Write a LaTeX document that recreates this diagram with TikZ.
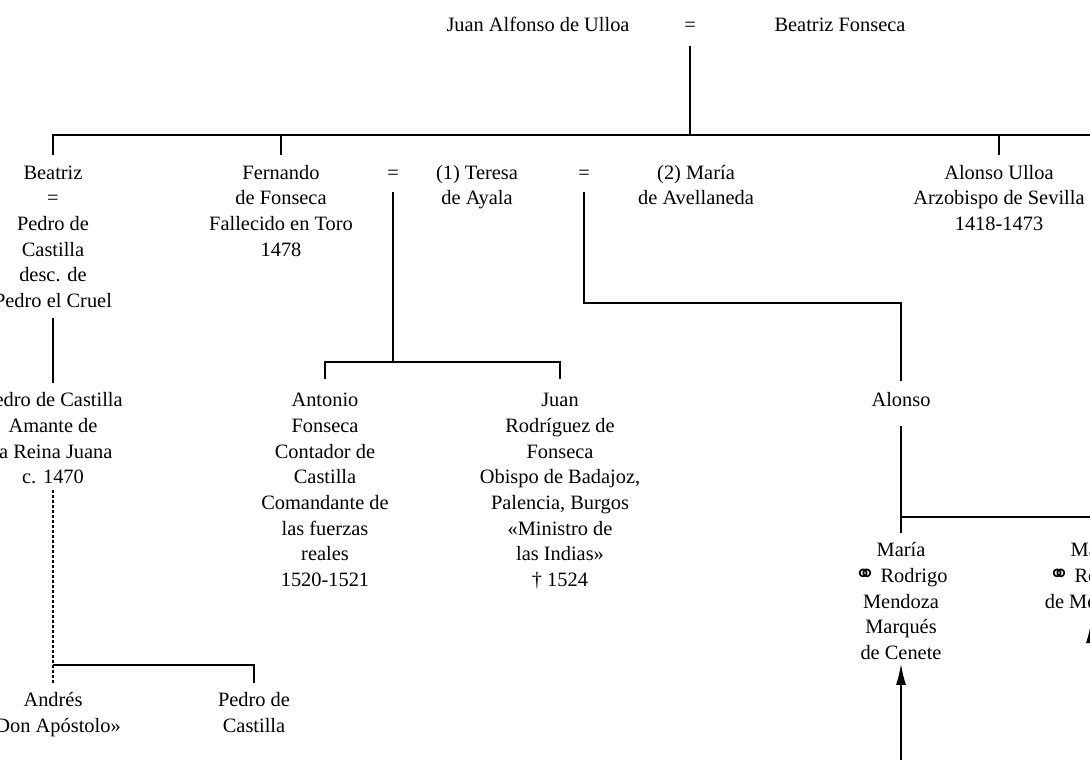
\documentclass[tikz,border=0pt]{standalone}
\usepackage{fontspec}
\setmainfont{Liberation Serif}
\newfontfamily\marrfont{DejaVu Sans}
\usetikzlibrary{arrows.meta}
\newcommand{\wed}{{\marrfont\fontsize{25}{25}\selectfont ⚭}}

\begin{document}
\begin{tikzpicture}[x=1pt, y=-1pt,
    kin/.style={line width=1.5pt},
    heir/.style={line width=1.2pt, dash pattern=on 3pt off 2pt},
    descent/.style={line width=1.5pt, -{Latex[length=21pt,width=10pt]}},
    who/.style={align=center, inner sep=0pt, anchor=north, font=\fontsize{20.4}{25.7}\selectfont}]
    \useasboundingbox (0,0) rectangle (1090,764);
    \clip (0,0) rectangle (1090,764);

    % the first couple
    \node[who] (juan) at (538, 13.5) {\strut Juan Alfonso de Ulloa};
    \node[who] (eqtop) at (690, 13.5) {\strut =};
    \node[who] (beaf) at (840, 13.5) {\strut Beatriz Fonseca};
    \coordinate (top) at (690, 135);

    % their children
    \node[who] (beatriz) at (53, 161) {\strut Beatriz\\=\\Pedro de\\Castilla\\desc. de\\Pedro el Cruel};
    \node[who] (fernando) at (281, 161) {\strut Fernando\\de Fonseca\\Fallecido en Toro\\1478};
    \node[who] (eq1) at (393, 161) {\strut =};
    \node[who] (teresa) at (477, 161) {\strut (1) Teresa\\de Ayala};
    \node[who] (eq2) at (584, 161) {\strut =};
    \node[who] (mariaA) at (696, 161) {\strut (2) María\\de Avellaneda};
    \node[who] (alonsoU) at (999, 161) {\strut Alonso Ulloa\\Arzobispo de Sevilla\\1418-1473};

    \draw[kin, shorten <=6pt] (eqtop.south) -- (top);
    \draw[kin] ([yshift=6pt]beatriz.north) |- (1100, 135);
    \draw[kin] ([yshift=6pt]fernando.north) -- (fernando.north |- top);
    \draw[kin] ([yshift=6pt]alonsoU.north) -- (alonsoU.north |- top);

    % grandchildren
    \node[who] (pedroC) at (53, 388.5) {\strut Pedro de Castilla\\Amante de\\la Reina Juana\\c. 1470};
    \node[who] (antonio) at (325, 388.5) {\strut Antonio\\Fonseca\\Contador de\\Castilla\\Comandante de\\las fuerzas\\reales\\1520-1521};
    \node[who] (juanR) at (560, 388.5) {\strut Juan\\Rodríguez de\\Fonseca\\Obispo de Badajoz,\\Palencia, Burgos\\«Ministro de\\las Indias»\\† 1524};
    \node[who] (alonso) at (901, 388.5) {\strut Alonso};
    \coordinate (sons) at (393, 362);
    \coordinate (bend) at (901, 303);

    \draw[kin] ([yshift=-10pt]beatriz.south) -- ([yshift=6pt]pedroC.north);
    \draw[kin, shorten <=5pt] (eq1.south) -- (sons);
    \draw[kin] ([yshift=10pt]antonio.north) |- (sons) -| ([yshift=10pt]juanR.north);
    \draw[kin, shorten <=5pt] (eq2.south) |- (bend) -- ([yshift=8pt]alonso.north);

    % next generation
    \node[who] (mariaR) at (901, 538.5) {\strut María\\\wed{} Rodrigo\\Mendoza\\Marqués\\de Cenete};
    \node[who] (mariaM) at (1095, 538.5) {\strut María\\\wed{} Rodrigo\\de Mendoza};
    \node[who] (andres) at (53, 688.5) {\strut Andrés\\«Don Apóstolo»};
    \node[who] (pedroB) at (254, 688.5) {\strut Pedro de\\Castilla};
    \coordinate (daughters) at (901, 517);
    \coordinate (bast) at (53, 665);
    \coordinate (srcA) at (901, 760);
    \coordinate (srcB) at (1091, 780);

    \draw[kin] ([yshift=-11pt]alonso.south) -- ([yshift=6pt]mariaR.north);
    \draw[kin] (daughters) -- (1100, 517);
    \draw[heir] ([yshift=-6pt]pedroC.south) -- ([yshift=6pt]andres.north);
    \draw[kin] (bast) -| ([yshift=6pt]pedroB.north);
    \draw[descent] (srcA) -- ([yshift=-4pt]mariaR.south);
    \draw[descent] (srcB) -- (srcB |- 0, 622);
\end{tikzpicture}
\end{document}
